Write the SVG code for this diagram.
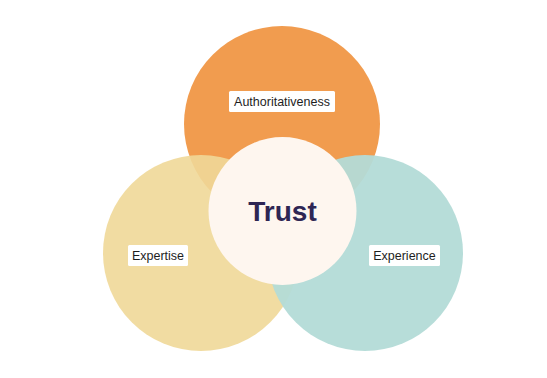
<svg xmlns="http://www.w3.org/2000/svg" width="547" height="378" viewBox="0 0 547 378">
<style>
.lbl{fill:#ffffff}
.lt{font-family:"Liberation Sans",Arial,sans-serif;font-size:12.5px;fill:#1e1e1e;text-anchor:middle}
</style>
<rect width="547" height="378" fill="#ffffff"/>
<g id="authoritativeness">
<circle cx="282" cy="124" r="98" fill="#f19c4f"/>
</g>
<g id="expertise">
<circle cx="201" cy="253" r="98" fill="#f0d898" fill-opacity="0.9"/>
</g>
<g id="experience">
<circle cx="365" cy="253" r="98" fill="#b3dbd7" fill-opacity="0.95"/>
</g>
<g id="trust">
<circle cx="282.5" cy="211" r="74" fill="#fef6ef"/>
<text x="282.5" y="221" font-family="'Liberation Sans',Arial,sans-serif" font-size="28" font-weight="700" fill="#2e2654" text-anchor="middle">Trust</text>
</g>
<g id="labels">
<g id="label-authoritativeness"><rect class="lbl" x="229" y="91" width="106" height="21" rx="1.5"/><text class="lt" x="282" y="106">Authoritativeness</text></g>
<g id="label-expertise"><rect class="lbl" x="128" y="245" width="60" height="21" rx="1.5"/><text class="lt" x="158" y="260">Expertise</text></g>
<g id="label-experience"><rect class="lbl" x="369" y="245" width="71" height="21" rx="1.5"/><text class="lt" x="404.5" y="260">Experience</text></g>
</g>
<g id="connectors"/>
</svg>
